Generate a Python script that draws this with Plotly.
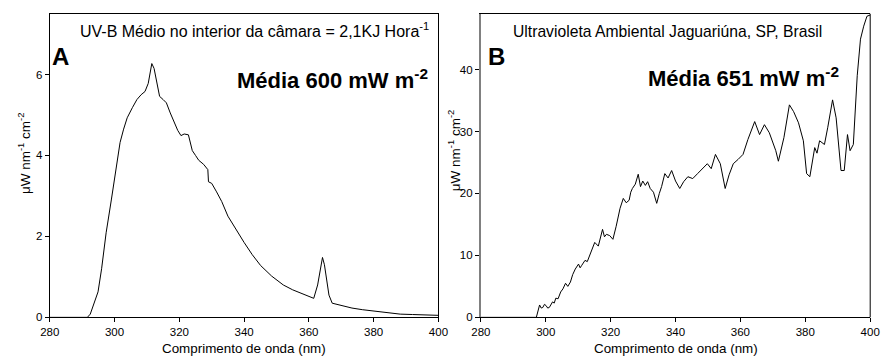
import plotly.graph_objects as go

# Panel A: chamber UV-B spectrum
wl_a = [280, 291.6, 292.5, 293.5, 294.9, 296.0, 297.4, 299.0, 300.4, 301.7, 302.8, 303.9, 305.5, 306.9,
        308.2, 309.4, 310.4, 311.0, 311.5, 312.2, 313.0, 313.9, 315.0, 316.0, 317.2, 318.5,
        319.5, 320.5, 321.5, 322.8, 323.4, 324.0, 325.0, 326.0, 327.5, 328.8, 329.0, 330.0,
        331.5, 333.1, 335.0, 337.5, 340.0, 342.5, 345.1, 348.5, 352.1, 355.0, 358.2, 360.0,
        361.5, 362.7, 363.5, 364.2, 364.8, 365.4, 366.2, 367.2, 370.0, 373.3, 376.5, 380.3,
        384.0, 388.2, 392.0, 396.0, 400.0]
val_a = [0, 0, 0.08, 0.3, 0.63, 1.2, 2.09, 2.9, 3.63, 4.32, 4.65, 4.93, 5.18, 5.38,
         5.5, 5.58, 5.78, 6.0, 6.27, 6.15, 5.82, 5.46, 5.38, 5.30, 5.05, 4.81,
         4.62, 4.49, 4.53, 4.51, 4.3, 4.12, 4.0, 3.88, 3.78, 3.65, 3.35, 3.31,
         3.1, 2.86, 2.50, 2.17, 1.85, 1.55, 1.28, 1.02, 0.80, 0.68, 0.57, 0.52,
         0.47, 0.80, 1.2, 1.48, 1.3, 0.96, 0.55, 0.35, 0.29, 0.23, 0.19, 0.15,
         0.11, 0.08, 0.07, 0.06, 0.05]

# Panel B: ambient UV spectrum, Jaguariúna
wl_b = [280, 297.1, 298.1, 298.6, 299.1, 299.6, 300.1, 300.6, 301.1, 301.6, 302.1, 302.6, 303.1,
        303.8, 304.6, 305.3, 306.1, 306.8, 307.6, 308.3, 309.1, 310.1, 310.6,
        311.1, 312.1, 312.8, 313.6, 314.3, 315.1, 316.2, 316.8, 317.5, 318.1, 318.7, 319.7, 320.7,
        321.7, 322.9, 323.9, 324.8, 325.7, 326.2,
        326.7, 327.6, 328.5, 329.2, 329.9, 330.7, 331.4, 332.2, 333.2, 334.2, 335.0, 335.7, 336.7,
        337.7, 338.8, 340.0, 341.3, 342.5, 343.8, 345.3, 346.8, 348.3,
        349.8, 351.0, 352.3, 353.8, 355.3, 356.5, 357.8, 359.3, 360.8, 362.3, 363.4, 364.4, 365.9,
        367.4, 368.9, 370.9, 371.7, 373.4, 375.1, 376.4, 377.9, 379.4, 380.4, 381.4, 382.9,
        383.6, 384.4, 385.9, 386.9, 388.4, 389.5, 390.5, 391.0, 392.0, 393.0, 393.8, 394.8,
        396.0, 397.0, 398.0, 399.0, 400.0]
val_b = [0, 0, 2.0, 1.5, 1.6, 2.1, 1.9, 1.5, 1.6, 2.2, 2.5, 2.3, 3.1,
         3.0, 4.1, 4.6, 5.5, 5.0, 5.7, 6.9, 7.8, 8.6, 8.0,
         8.4, 9.2, 9.0, 10.0, 11.0, 12.1, 11.5, 13.0, 14.2, 13.0, 13.4, 13.2, 12.6,
         14.7, 17.6, 19.2, 18.5, 18.9, 20.2,
         20.8, 21.5, 23.1, 21.1, 22.0, 21.3, 21.9, 20.8, 20.2, 18.4, 20.0, 21.1, 23.2,
         22.5, 23.7, 22.0, 20.8, 21.9, 22.7, 22.4, 23.2, 24.0,
         24.8, 24.0, 26.3, 24.8, 20.8, 23.0, 24.8, 25.5, 26.3, 28.7, 30.2, 31.6, 29.5,
         31.1, 29.8, 26.9, 25.2, 29.0, 34.3, 33.2, 31.4, 28.5, 23.2, 22.7, 27.4,
         26.5, 28.5, 27.9, 30.6, 35.1, 32.2, 26.9, 23.7, 23.7, 29.5, 26.9, 27.9,
         39.0, 44.9, 47.0, 48.6, 48.8]

x_ticks = [280, 300, 320, 340, 360, 380, 400]
y_ticks_a = [0, 2, 4, 6]
y_ticks_b = [0, 10, 20, 30, 40]

FONT = "Liberation Sans, Arial, sans-serif"
W, H = 889, 363

def px(x):
    return x / W

def py(y):
    return 1 - y / H

fig = go.Figure()
fig.add_trace(go.Scatter(x=wl_a, y=val_a, mode="lines", line=dict(color="black", width=1),
                         xaxis="x", yaxis="y", showlegend=False, hoverinfo="skip"))
fig.add_trace(go.Scatter(x=wl_b, y=val_b, mode="lines", line=dict(color="black", width=1),
                         xaxis="x2", yaxis="y2", showlegend=False, hoverinfo="skip"))

ydom = [py(322.7), py(14)]
axcommon = dict(showgrid=False, zeroline=False, ticks="outside", ticklen=4, tickwidth=1,
                tickcolor="black", tickfont=dict(family=FONT, size=11.5, color="black"),
                showline=True, linecolor="black", linewidth=1)

fig.update_layout(
    width=W, height=H, margin=dict(l=0, r=0, t=0, b=0),
    paper_bgcolor="white", plot_bgcolor="white",
    xaxis=dict(domain=[px(40.7), px(438.3)], range=[280, 400], tickvals=x_ticks, anchor="y",
               mirror=True, **axcommon),
    yaxis=dict(domain=ydom, range=[0, 7.5], tickvals=y_ticks_a, anchor="x", mirror=True, **axcommon),
    xaxis2=dict(domain=[px(481.7), px(880)], range=[280, 400], tickvals=x_ticks, anchor="y2",
                mirror=True, **axcommon),
    yaxis2=dict(domain=ydom, range=[0, 49], tickvals=y_ticks_b, anchor="x2", **{**axcommon,
                "linecolor": "#808080", "linewidth": 2}),
)

# right border of panel B
fig.add_shape(type="line", xref="x2 domain", yref="y2 domain", x0=1, x1=1, y0=0, y1=1,
              line=dict(color="black", width=1))

ann = []
def add(text, x, y, size, bold=False, xanchor="center", angle=0):
    t = f"<b>{text}</b>" if bold else text
    ann.append(dict(text=t, x=px(x), y=py(y), xref="paper", yref="paper", showarrow=False,
                    xanchor=xanchor, yanchor="middle", textangle=angle,
                    font=dict(family=FONT, size=size, color="black")))

add("UV-B Médio no interior da câmara = 2,1KJ Hora<sup>-1</sup>", 250, 31, 16)
add("A", 41, 57, 24, bold=True, xanchor="left")
add("Média 600 mW m<sup>-2</sup>", 330, 80, 22, bold=True)
add("Ultravioleta Ambiental Jaguariúna, SP, Brasil", 673, 32, 15.7)
add("B", 487, 57, 24, bold=True, xanchor="left")
add("Média 651 mW m<sup>-2</sup>", 750, 78, 22, bold=True)
add("Comprimento de onda (nm)", 239.5, 354, 13.4)
add("Comprimento de onda (nm)", 681, 354, 13.4)
add("μW nm<sup>-1</sup> cm<sup>-2</sup>", 15, 156, 13.5, angle=-90)
add("μW nm<sup>-1</sup> cm<sup>-2</sup>", 455, 153, 13.5, angle=-90)
fig.update_layout(annotations=ann)

fig.write_html("out.html")
